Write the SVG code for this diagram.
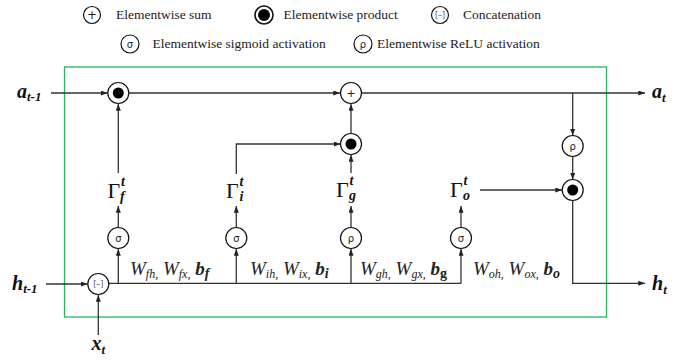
<svg xmlns="http://www.w3.org/2000/svg" width="696" height="362" viewBox="0 0 696 362">
<defs>
<marker id="ah" viewBox="0 0 8 6" refX="8" refY="3" markerWidth="7" markerHeight="5" orient="auto" markerUnits="userSpaceOnUse"><path d="M0,0 L8,3 L0,6 z" fill="#222"/></marker>
</defs>
<style>
.ln{fill:none;stroke:#333;stroke-width:1.3}
.ar{marker-end:url(#ah)}
.cir{fill:#fff;stroke:#111;stroke-width:1.2}
.dot{fill:#000}
.sym{font-family:"DejaVu Sans","Liberation Sans",sans-serif;font-size:10px;fill:#222;text-anchor:middle}
.leg{font-family:"Liberation Serif",serif;font-size:13.5px;fill:#222}
.var{font-family:"Liberation Serif",serif;font-size:20px;font-weight:bold;font-style:italic;fill:#111}
.gam{font-family:"Liberation Serif",serif;font-size:22px;fill:#111}
.gs{font-family:"Liberation Serif",serif;font-size:14px;font-weight:bold;font-style:italic;fill:#111}
.w{font-family:"Liberation Serif",serif;font-size:19px;font-style:italic;fill:#222}
.ws{font-size:12px}
.wb{font-weight:bold}
</style>
<rect x="64.5" y="67" width="542" height="250" fill="none" stroke="#2bb55c" stroke-width="1.3"/>

<g id="legend">
<circle class="cir" cx="92" cy="15" r="8.5"/><text class="sym" x="92" y="19" style="font-size:12px">+</text>
<text class="leg" x="116" y="19">Elementwise sum</text>
<circle class="cir" cx="264" cy="15" r="9" style="stroke-width:1.6"/><circle class="dot" cx="264" cy="15" r="6"/>
<text class="leg" x="283.5" y="19">Elementwise product</text>
<circle class="cir" cx="440" cy="15" r="8.5"/><text class="sym" x="440" y="18" style="font-size:8px;fill:#555">[–]</text>
<text class="leg" x="463" y="19">Concatenation</text>
<circle class="cir" cx="130" cy="44" r="9"/><text class="sym" x="130" y="48">σ</text>
<text class="leg" x="152.5" y="48">Elementwise sigmoid activation</text>
<circle class="cir" cx="363" cy="44" r="9"/><text class="sym" x="363" y="48">ρ</text>
<text class="leg" x="377" y="48">Elementwise ReLU activation</text>
</g>

<g id="connectors">
<line class="ln ar" x1="51" y1="93" x2="107.5" y2="93"/>
<line class="ln ar" x1="129" y1="93" x2="340" y2="93"/>
<line class="ln ar" x1="362" y1="93" x2="645" y2="93"/>
<line class="ln ar" x1="572.7" y1="93" x2="572.7" y2="135.5"/>
<line class="ln ar" x1="572.7" y1="156.5" x2="572.7" y2="179.5"/>
<line class="ln ar" x1="480" y1="190" x2="562" y2="190"/>
<path class="ln ar" d="M572.7,200.5 V283.3 H645"/>
<line class="ln ar" x1="118.3" y1="173" x2="118.3" y2="104"/>
<path class="ln ar" d="M236.3,174 V144 H340.5"/>
<line class="ln ar" x1="351" y1="173" x2="351" y2="155"/>
<line class="ln ar" x1="351" y1="133.5" x2="351" y2="104"/>
<line class="ln ar" x1="46" y1="284" x2="87.5" y2="284"/>
<line class="ln ar" x1="98.3" y1="335" x2="98.3" y2="295"/>
<line class="ln" x1="109" y1="283.3" x2="461" y2="283.3"/>
<line class="ln ar" x1="118.3" y1="283.3" x2="118.3" y2="249"/>
<line class="ln ar" x1="236.3" y1="283.3" x2="236.3" y2="249"/>
<line class="ln ar" x1="351" y1="283.3" x2="351" y2="249"/>
<line class="ln ar" x1="461" y1="283.3" x2="461" y2="249"/>
<line class="ln ar" x1="118.3" y1="227" x2="118.3" y2="206"/>
<line class="ln ar" x1="236.3" y1="227" x2="236.3" y2="206"/>
<line class="ln ar" x1="351" y1="227" x2="351" y2="206"/>
<line class="ln ar" x1="461" y1="227" x2="461" y2="206"/>
</g>

<g id="forget_product"><circle class="cir" cx="118.3" cy="93" r="10.5"/><circle class="dot" cx="118.3" cy="93" r="5.5"/></g>
<g id="sum"><circle class="cir" cx="351" cy="93" r="10.5"/><text class="sym" x="351" y="97" style="font-size:11px">+</text></g>
<g id="input_product"><circle class="cir" cx="351" cy="144" r="10.5"/><circle class="dot" cx="351" cy="144" r="5.5"/></g>
<g id="relu_out"><circle class="cir" cx="572.7" cy="146" r="10.5"/><text class="sym" x="572.7" y="150">ρ</text></g>
<g id="output_product"><circle class="cir" cx="572.7" cy="190" r="10.5"/><circle class="dot" cx="572.7" cy="190" r="5.5"/></g>
<g id="concat"><circle class="cir" cx="98.3" cy="284" r="10.5"/><text class="sym" x="98.3" y="287" style="font-size:8px;fill:#555">[–]</text></g>
<g id="sigma_f"><circle class="cir" cx="118.3" cy="238" r="10.5"/><text class="sym" x="118.3" y="242">σ</text></g>
<g id="sigma_i"><circle class="cir" cx="236.3" cy="238" r="10.5"/><text class="sym" x="236.3" y="242">σ</text></g>
<g id="relu_g"><circle class="cir" cx="351" cy="238" r="10.5"/><text class="sym" x="351" y="242">ρ</text></g>
<g id="sigma_o"><circle class="cir" cx="461" cy="238" r="10.5"/><text class="sym" x="461" y="242">σ</text></g>

<g id="gamma_f"><text class="gam" x="107.5" y="198">Γ</text><text class="gs" x="121" y="186">t</text><text class="gs" x="120" y="201">f</text></g>
<g id="gamma_i"><text class="gam" x="226" y="198">Γ</text><text class="gs" x="239.5" y="186">t</text><text class="gs" x="239.5" y="201">i</text></g>
<g id="gamma_g"><text class="gam" x="336" y="197">Γ</text><text class="gs" x="349.5" y="185">t</text><text class="gs" x="349" y="200">g</text></g>
<g id="gamma_o"><text class="gam" x="450" y="197">Γ</text><text class="gs" x="463.5" y="185">t</text><text class="gs" x="463" y="200">o</text></g>

<g id="labels">
<text class="var" x="17" y="98">a<tspan dy="3" style="font-size:13px">t-1</tspan></text>
<text class="var" x="652" y="98">a<tspan dy="4" style="font-size:13px">t</tspan></text>
<text class="var" x="12" y="290">h<tspan dy="3" style="font-size:13px">t-1</tspan></text>
<text class="var" x="652" y="290">h<tspan dy="4" style="font-size:13px">t</tspan></text>
<text class="var" x="91.5" y="350">x<tspan dy="4" style="font-size:13px">t</tspan></text>
</g>

<g id="weights">
<text class="w" x="130" y="275">W<tspan class="ws" dy="3">fh,</tspan><tspan dy="-3"> W</tspan><tspan class="ws" dy="3">fx,</tspan><tspan class="wb" dy="-3"> b</tspan><tspan class="wb" dy="3" style="font-size:14px">f</tspan></text>
<text class="w" x="250" y="275">W<tspan class="ws" dy="3">ih,</tspan><tspan dy="-3"> W</tspan><tspan class="ws" dy="3">ix,</tspan><tspan class="wb" dy="-3"> b</tspan><tspan class="wb" dy="3" style="font-size:14px">i</tspan></text>
<text class="w" x="360" y="275">W<tspan class="ws" dy="3">gh,</tspan><tspan dy="-3"> W</tspan><tspan class="ws" dy="3">gx,</tspan><tspan class="wb" dy="-3"> b</tspan><tspan class="wb" dy="3" style="font-size:14px;font-style:normal">g</tspan></text>
<text class="w" x="473" y="275">W<tspan class="ws" dy="3">oh,</tspan><tspan dy="-3"> W</tspan><tspan class="ws" dy="3">ox,</tspan><tspan class="wb" dy="-3"> b</tspan><tspan class="wb" dy="3" style="font-size:14px">o</tspan></text>
</g>
</svg>
